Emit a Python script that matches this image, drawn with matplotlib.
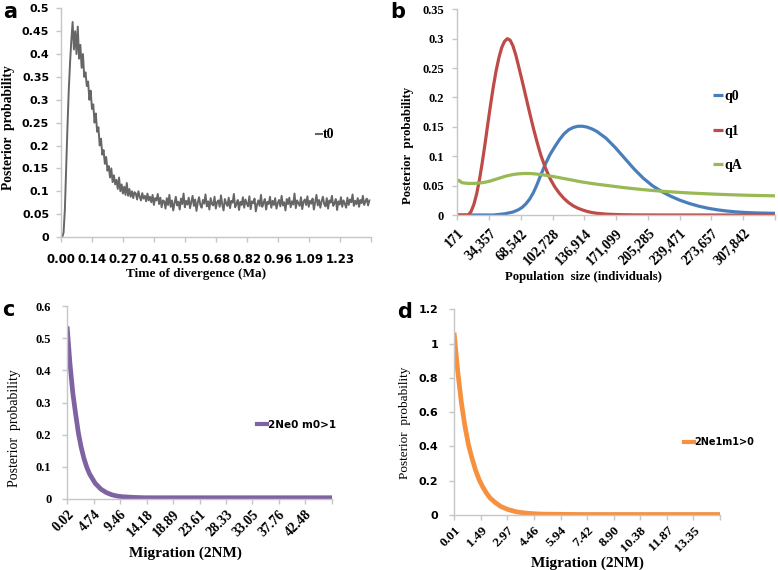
import numpy as np
import matplotlib
matplotlib.use("Agg")
import matplotlib.pyplot as plt
from matplotlib.lines import Line2D
from matplotlib.font_manager import FontProperties

# ---------------- data ----------------
# (a) time of divergence, posterior probability (x 1000), sampled evenly over 0..1.36 Ma
t0_xmax = 1.36
t0_prob = [
    0, 0, 10, 60, 150, 240, 320, 380, 430, 470,
    410, 450, 400, 460, 390, 420, 370, 400, 350, 360,
    330, 340, 300, 320, 280, 290, 250, 270, 230, 240,
    200, 215, 180, 190, 160, 175, 145, 155, 130, 150,
    120, 135, 115, 125, 105, 130, 100, 115, 95, 110,
    92, 118, 90, 105, 88, 100, 85, 98, 95, 82,
    100, 88, 80, 96, 84, 90, 78, 95, 80, 88,
    76, 92, 70, 85, 80, 94, 72, 86, 65, 80,
    78, 62, 85, 70, 92, 66, 80, 58, 74, 88,
    69, 77, 60, 84, 72, 95, 65, 79, 71, 86,
    63, 76, 90, 68, 82, 57, 75, 87, 70, 64,
    81, 73, 93, 67, 78, 60, 85, 72, 69, 88,
    62, 76, 80, 66, 91, 71, 58, 83, 74, 68,
    86, 63, 79, 75, 94, 65, 72, 81, 59, 77,
    70, 87, 64, 82, 73, 67, 89, 61, 78, 74,
    84, 56, 71, 80, 68, 92, 66, 75, 83, 60,
    77, 72, 88, 64, 79, 70, 85, 62, 74, 81,
    67, 90, 69, 76, 58, 83, 72, 86, 65, 78,
    71, 95, 63, 80, 74, 68, 87, 61, 77, 82,
    70, 89, 66, 79, 73, 84, 60, 76, 92, 69,
    81, 64, 78, 88, 72, 67, 85, 62, 80, 75,
    90, 68, 74, 83, 59, 78, 71, 87, 66, 80,
    73, 64, 86, 70, 82, 76, 93, 68, 79, 72,
    85, 66, 81, 74, 90, 70, 78, 84, 69, 80,
]
a_xticklabels = ["0.00", "0.14", "0.27", "0.41", "0.55", "0.68", "0.82", "0.96", "1.09", "1.23"]
a_xstep = 0.1366
a_yticks = [0, 0.05, 0.1, 0.15, 0.2, 0.25, 0.3, 0.35, 0.4, 0.45, 0.5]
a_yticklabels = ["0", "0.05", "0.1", "0.15", "0.2", "0.25", "0.3", "0.35", "0.4", "0.45", "0.5"]

# (b) population size (thousands of individuals)
pop_k = [0.171, 2, 5, 10, 12, 15, 18, 21, 24, 27, 30, 33, 36, 39, 42, 45, 48, 51, 54, 57,
         60, 63, 66, 70, 74, 78, 82, 86, 90, 95, 100, 105, 110, 115, 120, 125, 130, 135,
         140, 145, 150, 160, 170, 180, 190, 200, 210, 220, 230, 240, 250, 260, 270, 280,
         290, 300, 310, 320, 330, 342]
q0 = [0, 0, 0, 0, 0, 0, 0, 0, 0, 0, 0, 0, 0, 0, 0.0005, 0.001, 0.0015, 0.002, 0.003, 0.004,
      0.005, 0.007, 0.009, 0.013, 0.019, 0.027, 0.038, 0.052, 0.068, 0.087, 0.103, 0.116,
      0.128, 0.138, 0.145, 0.149, 0.151, 0.151, 0.1495, 0.1465, 0.1425, 0.131, 0.115,
      0.097, 0.079, 0.063, 0.050, 0.040, 0.0318, 0.025, 0.0195, 0.015, 0.0115, 0.0088,
      0.0068, 0.0053, 0.0043, 0.0036, 0.0032, 0.0029]
q1 = [0, 0, 0, 0, 0, 0.006, 0.018, 0.036, 0.060, 0.089, 0.121, 0.155, 0.188, 0.219, 0.246,
      0.268, 0.285, 0.2955, 0.300, 0.2975, 0.288, 0.273, 0.254, 0.228, 0.201, 0.174, 0.148,
      0.124, 0.102, 0.080, 0.062, 0.048, 0.037, 0.028, 0.021, 0.0155, 0.0115, 0.0085, 0.006,
      0.0042, 0.003, 0.0015, 0.0008, 0.0004, 0.0002, 0.0001, 0.0001, 0, 0, 0,
      0, 0, 0, 0, 0, 0, 0, 0, 0, 0]
qA = [0.057, 0.059, 0.055, 0.054, 0.0538, 0.0537, 0.0538, 0.054, 0.0545, 0.055, 0.0558,
      0.0568, 0.058, 0.0595, 0.061, 0.0625, 0.064, 0.0655, 0.0668, 0.0678, 0.0688, 0.0695,
      0.070, 0.0705, 0.0707, 0.0706, 0.0702, 0.0696, 0.0688, 0.0676, 0.0663, 0.065, 0.0635,
      0.062, 0.0605, 0.059, 0.0575, 0.056, 0.0548, 0.0536, 0.0525, 0.0505, 0.0485, 0.0465,
      0.0448, 0.0432, 0.0418, 0.0405, 0.0394, 0.0384, 0.0375, 0.0367, 0.036, 0.0353,
      0.0347, 0.0342, 0.0337, 0.0333, 0.033, 0.0326]
b_xticklabels = ["171", "34,357", "68,542", "102,728", "136,914", "171,099", "205,285",
                 "239,471", "273,657", "307,842"]
b_xstart, b_xstep = 171, 34186
b_yticks = [0, 0.05, 0.1, 0.15, 0.2, 0.25, 0.3, 0.35]
b_yticklabels = ["0", "0.05", "0.1", "0.15", "0.2", "0.25", "0.3", "0.35"]

# (c) migration 2Ne0 m0>1
mig_c = [0.02, 0.5, 1, 1.5, 2, 2.5, 3, 3.5, 4, 5, 6, 7, 8, 9, 10, 12, 14, 16, 20, 25, 30,
         35, 40, 47.2]
prob_c = [0.53, 0.42, 0.33, 0.265, 0.205, 0.16, 0.125, 0.098, 0.077, 0.048, 0.030, 0.019,
          0.012, 0.008, 0.006, 0.004, 0.003, 0.003, 0.003, 0.003, 0.003, 0.003, 0.003, 0.003]
c_xticklabels = ["0.02", "4.74", "9.46", "14.18", "18.89", "23.61", "28.33", "33.05",
                 "37.76", "42.48"]
c_xstart, c_xstep = 0.02, 4.72
c_yticks = [0, 0.1, 0.2, 0.3, 0.4, 0.5, 0.6]
c_yticklabels = ["0", "0.1", "0.2", "0.3", "0.4", "0.5", "0.6"]

# (d) migration 2Ne1m1>0
mig_d = [0.01, 0.2, 0.4, 0.6, 0.8, 1.0, 1.2, 1.4, 1.6, 1.8, 2.0, 2.3, 2.6, 3.0, 3.5, 4.0,
         4.5, 5, 6, 7, 8, 10, 12, 14.83]
prob_d = [1.05, 0.84, 0.66, 0.52, 0.41, 0.33, 0.26, 0.205, 0.163, 0.128, 0.10, 0.072, 0.05,
          0.032, 0.018, 0.011, 0.007, 0.005, 0.004, 0.003, 0.003, 0.003, 0.003, 0.003]
d_xticklabels = ["0.01", "1.49", "2.97", "4.46", "5.94", "7.42", "8.90", "10.38", "11.87",
                 "13.35"]
d_xstart, d_xstep = 0.01, 1.482
d_yticks = [0, 0.2, 0.4, 0.6, 0.8, 1.0, 1.2]
d_yticklabels = ["0", "0.2", "0.4", "0.6", "0.8", "1", "1.2"]

# ---------------- figure ----------------
W, H = 778, 570
fig = plt.figure(figsize=(W / 100, H / 100), dpi=100)
SERIF = "Liberation Serif"
SANS = "DejaVu Sans"
AXC = "#c6c6c6"


def box(l, t, r, b):
    return [l / W, 1 - b / H, (r - l) / W, (b - t) / H]


def style(ax):
    for s in ["top", "right"]:
        ax.spines[s].set_visible(False)
    for s in ["left", "bottom"]:
        ax.spines[s].set_color(AXC)
        ax.spines[s].set_linewidth(1.0)
    ax.tick_params(color=AXC, length=3.5, width=1.0, direction="out")


def place_labels(ax, xl, yl):
    ax.xaxis.label.set_va("center")
    ax.yaxis.label.set_va("center")
    ax.xaxis.set_label_coords(xl[0] / W, 1 - xl[1] / H, transform=fig.transFigure)
    ax.yaxis.set_label_coords(yl[0] / W, 1 - yl[1] / H, transform=fig.transFigure)


# ---- panel a ----
ax = fig.add_axes(box(61, 8.3, 370.7, 237))
style(ax)
xa = np.linspace(0, t0_xmax, len(t0_prob))
ax.plot(xa, np.array(t0_prob) / 1000.0, color="#666666", lw=1.4)
ax.set_xlim(0, a_xstep * 10)
ax.set_ylim(0, 0.5)
ax.set_xticks([a_xstep * i for i in range(11)], a_xticklabels + [""],
              fontfamily=SANS, fontweight="bold", fontsize=8.5)
ax.set_yticks(a_yticks, a_yticklabels, fontfamily=SANS, fontweight="bold", fontsize=8)
ax.tick_params(axis="x", pad=8)
ax.tick_params(axis="y", pad=5)
ax.set_xlabel("Time of divergence (Ma)", fontfamily=SERIF, fontweight="bold", fontsize=9.5)
ax.set_ylabel("Posterior  probability", fontfamily=SERIF, fontweight="bold", fontsize=9.8)
place_labels(ax, (196, 274), (8.5, 127.5))
ax.legend([Line2D([], [], color="#666666", lw=1.5)], ["t0"], loc="center left",
          bbox_to_anchor=((316 - 61) / (370.7 - 61), 1 - (135 - 8.3) / (237 - 8.3)),
          frameon=False, handlelength=0.45, handletextpad=0.05, borderpad=0, borderaxespad=0,
          prop=FontProperties(family=SERIF, weight="bold", size=10))
fig.text(3 / W, 1 - 18 / H, "a", fontfamily=SANS, fontweight="bold", fontsize=15,
         ha="left", va="baseline")

# ---- panel b ----
ax = fig.add_axes(box(457.3, 9.3, 775, 215))
style(ax)
xb = np.array(pop_k) * 1000
ax.plot(xb, q0, color="#4a7ebb", lw=2.3, label="q0", solid_capstyle="butt")
ax.plot(xb, q1, color="#be4b48", lw=2.3, label="q1", solid_capstyle="butt")
ax.plot(xb, qA, color="#98b954", lw=2.3, label="qA", solid_capstyle="butt")
ax.set_xlim(b_xstart, b_xstart + 10 * b_xstep)
ax.set_ylim(0, 0.35)
ax.set_xticks([b_xstart + b_xstep * i for i in range(11)], b_xticklabels + [""],
              rotation=45, ha="right", va="top", rotation_mode="anchor",
              fontfamily=SERIF, fontweight="bold", fontsize=10)
ax.set_yticks(b_yticks, b_yticklabels, fontfamily=SERIF, fontweight="bold", fontsize=9)
ax.tick_params(axis="x", pad=5)
ax.tick_params(axis="y", pad=6)
ax.set_xlabel("Population  size (individuals)", fontfamily=SERIF, fontweight="bold",
              fontsize=9.2)
ax.set_ylabel("Posterior  probability", fontfamily=SERIF, fontweight="bold", fontsize=9.2)
place_labels(ax, (583, 277), (408, 145))
ax.legend(loc="center left",
          bbox_to_anchor=((713 - 457.3) / (775 - 457.3), 1 - (131 - 9.3) / (215 - 9.3)),
          frameon=False, handlelength=0.75, handletextpad=0.05, borderpad=0,
          borderaxespad=0, labelspacing=1.55,
          prop=FontProperties(family=SERIF, weight="bold", size=10))
fig.text(390 / W, 1 - 18 / H, "b", fontfamily=SANS, fontweight="bold", fontsize=15,
         ha="left", va="baseline")

# ---- panel c ----
ax = fig.add_axes(box(67.3, 306.3, 331.7, 498.7))
style(ax)
ax.plot(mig_c, prob_c, color="#7f62a1", lw=3.4, label="2Ne0 m0>1")
ax.set_xlim(c_xstart, c_xstart + 10 * c_xstep)
ax.set_ylim(0, 0.6)
ax.set_xticks([c_xstart + c_xstep * i for i in range(11)], c_xticklabels + [""],
              rotation=45, ha="right", va="top", rotation_mode="anchor",
              fontfamily=SERIF, fontweight="bold", fontsize=10)
ax.set_yticks(c_yticks, c_yticklabels, fontfamily=SERIF, fontweight="bold", fontsize=9)
ax.tick_params(axis="x", pad=3)
ax.tick_params(axis="y", pad=8)
ax.set_xlabel("Migration (2NM)", fontfamily=SERIF, fontweight="bold", fontsize=11)
ax.set_ylabel("Posterior  probability", fontfamily=SERIF, fontsize=10)
place_labels(ax, (185, 553), (15, 428))
ax.legend([Line2D([], [], color="#7f62a1", lw=3)], ["2Ne0 m0>1"], loc="center left",
          bbox_to_anchor=((257 - 67.3) / (331.7 - 67.3), 1 - (425 - 306.3) / (498.7 - 306.3)),
          frameon=False, handlelength=1.0, handletextpad=0.05, borderpad=0, borderaxespad=0,
          prop=FontProperties(family=SANS, weight="bold", size=7.5))
fig.text(2 / W, 1 - 316 / H, "c", fontfamily=SANS, fontweight="bold", fontsize=15,
         ha="left", va="baseline")

# ---- panel d ----
ax = fig.add_axes(box(454.3, 309.3, 720, 515))
style(ax)
ax.plot(mig_d, prob_d, color="#f5913f", lw=3.4, label="2Ne1m1>0")
ax.set_xlim(d_xstart, d_xstart + 10 * d_xstep)
ax.set_ylim(0, 1.2)
ax.set_xticks([d_xstart + d_xstep * i for i in range(11)], d_xticklabels + [""],
              rotation=45, ha="right", va="top", rotation_mode="anchor",
              fontfamily=SERIF, fontweight="bold", fontsize=9.5)
ax.set_yticks(d_yticks, d_yticklabels, fontfamily=SANS, fontweight="bold", fontsize=8)
ax.tick_params(axis="x", pad=3)
ax.tick_params(axis="y", pad=8)
ax.set_xlabel("Migration (2NM)", fontfamily=SERIF, fontweight="bold", fontsize=11)
ax.set_ylabel("Posterior  probability", fontfamily=SERIF, fontsize=9.5)
place_labels(ax, (587, 563), (405, 423))
ax.legend([Line2D([], [], color="#f5913f", lw=3)], ["2Ne1m1>0"], loc="center left",
          bbox_to_anchor=((684 - 454.3) / (720 - 454.3), 1 - (442 - 309.3) / (515 - 309.3)),
          frameon=False, handlelength=1.0, handletextpad=0.05, borderpad=0, borderaxespad=0,
          prop=FontProperties(family=SANS, weight="bold", size=7))
fig.text(397 / W, 1 - 318 / H, "d", fontfamily=SANS, fontweight="bold", fontsize=15,
         ha="left", va="baseline")

fig.savefig("out.png", dpi=100)
